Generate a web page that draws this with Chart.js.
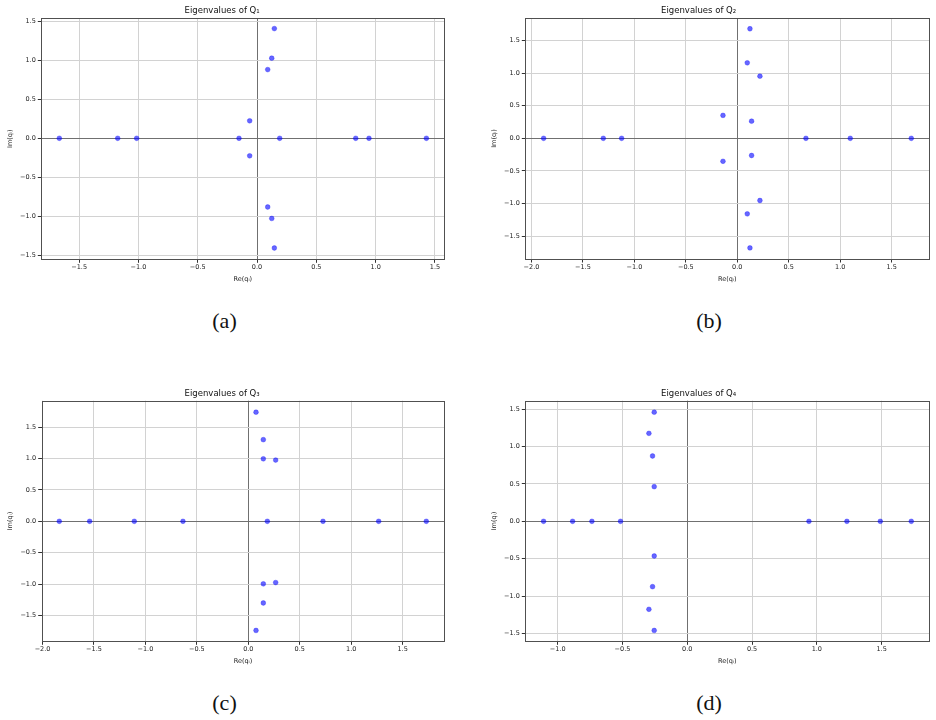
<!DOCTYPE html>
<html>
<head>
<meta charset="utf-8">
<script src="https://cdn.jsdelivr.net/npm/chart.js@4/dist/chart.umd.min.js"></script>
<style>
  html, body { margin: 0; padding: 0; background: #fff; }
  #wrap { position: relative; width: 936px; height: 720px; overflow: hidden; background: #fff; }
  canvas { position: absolute; }
  .cap { position: absolute; font-family: "Liberation Serif", "DejaVu Serif", serif; font-size: 22px; color: #111;
         transform: translate(-50%, -50%); white-space: nowrap; line-height: 1; }
</style>
</head>
<body>
<div id="wrap">
  <canvas id="c1" width="468" height="300" style="left:0px;top:0px"></canvas>
  <canvas id="c2" width="468" height="300" style="left:468px;top:0px"></canvas>
  <canvas id="c3" width="468" height="300" style="left:0px;top:380px"></canvas>
  <canvas id="c4" width="468" height="300" style="left:468px;top:380px"></canvas>
  <div class="cap" style="left:224.5px;top:321px">(a)</div>
  <div class="cap" style="left:709px;top:321px">(b)</div>
  <div class="cap" style="left:224.5px;top:703px">(c)</div>
  <div class="cap" style="left:709px;top:703px">(d)</div>
</div>
<script>
// ---- Data ----
const titles = ["Eigenvalues of Q₁", "Eigenvalues of Q₂", "Eigenvalues of Q₃", "Eigenvalues of Q₄"];
const xLabel = "Re(qᵢ)";
const yLabel = "Im(qᵢ)";

const q1Re = [-1.667, -1.175, -1.015, -0.152, 0.191, 0.832, 0.944, 1.428, -0.062, -0.062, 0.090, 0.090, 0.124, 0.124, 0.146, 0.146];
const q1Im = [0, 0, 0, 0, 0, 0, 0, 0, 0.225, -0.225, 0.883, -0.883, 1.030, -1.030, 1.410, -1.410];

const q2Re = [-1.882, -1.302, -1.124, 0.667, 1.098, 1.691, -0.139, -0.139, 0.139, 0.139, 0.220, 0.220, 0.097, 0.097, 0.123, 0.123];
const q2Im = [0, 0, 0, 0, 0, 0, 0.352, -0.352, 0.263, -0.263, 0.953, -0.953, 1.158, -1.158, 1.680, -1.680];

const q3Re = [-1.837, -1.542, -1.108, -0.635, 0.185, 0.726, 1.267, 1.730, 0.075, 0.075, 0.146, 0.146, 0.146, 0.146, 0.266, 0.266];
const q3Im = [0, 0, 0, 0, 0, 0, 0, 0, 1.737, -1.737, 1.300, -1.300, 0.995, -0.995, 0.975, -0.975];

const q4Re = [-1.109, -0.885, -0.736, -0.515, 0.939, 1.232, 1.490, 1.729, -0.255, -0.255, -0.296, -0.296, -0.268, -0.268, -0.255, -0.255];
const q4Im = [0, 0, 0, 0, 0, 0, 0, 0, 1.460, -1.460, 1.177, -1.177, 0.874, -0.874, 0.464, -0.464];

// axis ranges [min, max]
const xRanges = [[-1.819, 1.579], [-2.060, 1.866], [-2.008, 1.905], [-1.250, 1.868]];
const yRanges = [[-1.555, 1.546], [-1.850, 1.845], [-1.910, 1.920], [-1.605, 1.614]];
const tickStep = 0.5;

// ---- Layout (pixel geometry per panel) ----
const layouts = [
  { yw: 41.3, padR: 23.7, tTop: 5.5, tBot: 2.3, xh: 40.7, xtPad: 17.1, ytPad: 6.8 },
  { yw: 57.3, padR: 6.7,  tTop: 5.5, tBot: 2.3, xh: 41.0, xtPad: 17.1, ytPad: 22.4 },
  { yw: 41.7, padR: 23.7, tTop: 8.2, tBot: 2.3, xh: 38.7, xtPad: 15.1, ytPad: 6.8 },
  { yw: 57.3, padR: 6.7,  tTop: 8.2, tBot: 2.3, xh: 38.7, xtPad: 14.4, ytPad: 22.1 }
];

const FONT = "DejaVu Sans";
const tickFont = { family: FONT, size: 6.5, lineHeight: 1.2 };
const labelFont = { family: FONT, size: 6.5, lineHeight: 1.2 };
const titleFont = { family: FONT, size: 8.5, lineHeight: 1.2, weight: 'normal' };

const fmt = v => {
  const s = (Math.abs(v) < 1e-9 ? 0 : v).toFixed(1);
  return s.replace('-', '\u2212');
};
const gridColor = ctx => (ctx.tick && Math.abs(ctx.tick.value) < 1e-9) ? '#707070' : '#d2d2d2';

const framePlugin = {
  id: 'frame',
  afterDraw(chart) {
    const a = chart.chartArea, c = chart.ctx;
    c.save();
    c.strokeStyle = '#505050';
    c.lineWidth = 1;
    c.strokeRect(Math.round(a.left) + 0.5, Math.round(a.top) + 0.5,
                 Math.round(a.right) - Math.round(a.left), Math.round(a.bottom) - Math.round(a.top));
    c.restore();
  }
};

function makeChart(id, re, im, title, xr, yr, L) {
  const pts = re.map((x, i) => ({ x: x, y: im[i] }));
  return new Chart(document.getElementById(id), {
    type: 'scatter',
    data: { datasets: [{
      data: pts,
      backgroundColor: 'rgba(0,0,255,0.6)',
      borderColor: 'rgba(0,0,255,0.6)',
      borderWidth: 0.5,
      pointRadius: 2.4,
      pointHoverRadius: 2.4
    }] },
    options: {
      responsive: false,
      animation: false,
      events: [],
      layout: { padding: { left: 0, right: L.padR, top: 0, bottom: 0 } },
      plugins: {
        legend: { display: false },
        tooltip: { enabled: false },
        title: { display: true, text: title, font: titleFont, color: '#111',
                 padding: { top: L.tTop, bottom: L.tBot } }
      },
      scales: {
        x: {
          type: 'linear', position: 'bottom', min: xr[0], max: xr[1],
          afterFit: s => { s.height = L.xh; },
          ticks: { stepSize: tickStep, includeBounds: false, autoSkip: false, maxRotation: 0,
                   font: tickFont, color: '#222', padding: 1, callback: fmt },
          grid: { color: gridColor, lineWidth: 1, tickColor: '#333', tickLength: 3.5, tickWidth: 1 },
          border: { display: false },
          title: { display: true, text: xLabel, font: labelFont, color: '#222',
                   padding: { top: 0, bottom: L.xtPad } }
        },
        y: {
          type: 'linear', position: 'left', min: yr[0], max: yr[1],
          afterFit: s => { s.width = L.yw; },
          ticks: { stepSize: tickStep, includeBounds: false, autoSkip: false,
                   font: tickFont, color: '#222', padding: 2, callback: fmt },
          grid: { color: gridColor, lineWidth: 1, tickColor: '#333', tickLength: 3.5, tickWidth: 1 },
          border: { display: false },
          title: { display: true, text: yLabel, font: labelFont, color: '#222',
                   padding: { top: L.ytPad, bottom: 0 } }
        }
      }
    },
    plugins: [framePlugin]
  });
}

makeChart('c1', q1Re, q1Im, titles[0], xRanges[0], yRanges[0], layouts[0]);
makeChart('c2', q2Re, q2Im, titles[1], xRanges[1], yRanges[1], layouts[1]);
makeChart('c3', q3Re, q3Im, titles[2], xRanges[2], yRanges[2], layouts[2]);
makeChart('c4', q4Re, q4Im, titles[3], xRanges[3], yRanges[3], layouts[3]);
</script>
</body>
</html>
